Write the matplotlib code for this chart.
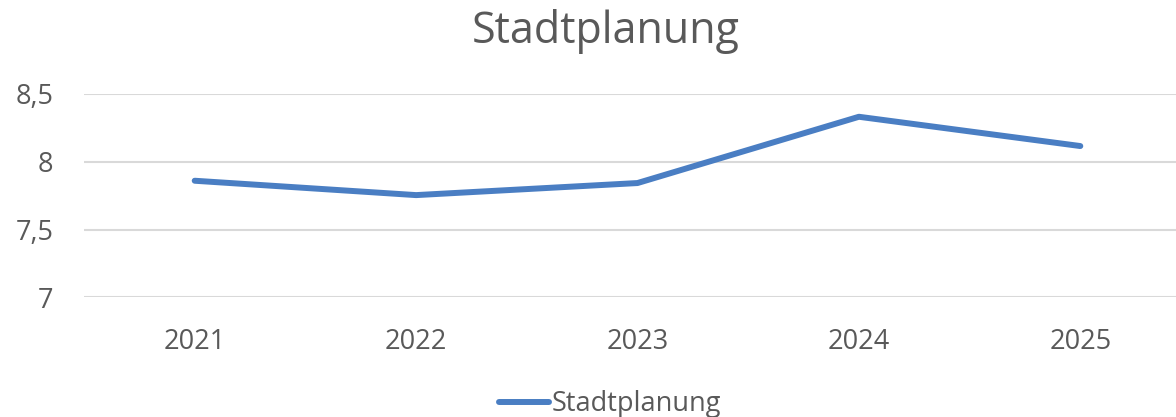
import matplotlib
matplotlib.use("Agg")
import matplotlib.pyplot as plt
from matplotlib.lines import Line2D

years = ["2021", "2022", "2023", "2024", "2025"]
values = [7.86, 7.754, 7.843, 8.332, 8.116]
yticks = [7, 7.5, 8, 8.5]
ytick_labels = ["7", "7,5", "8", "8,5"]
series_name = "Stadtplanung"

W, H = 1176, 417
fig = plt.figure(figsize=(W / 100, H / 100), dpi=100)
plt.rcParams['font.family'] = ['Open Sans', 'DejaVu Sans']

line_color = "#4A7EC3"
left, right = 84, 1191
bottom, top = 297.3, 94
ax = fig.add_axes([left / W, (H - bottom) / H, (right - left) / W, (bottom - top) / H])
x = list(range(len(years)))
ax.plot(x, values, color=line_color, lw=4.3, solid_capstyle="round", solid_joinstyle="round", zorder=3)
ax.set_xlim(-0.5, len(years) - 0.5)
ax.set_ylim(7, 8.5)
ax.set_yticks(yticks)
ax.set_yticklabels(ytick_labels)
ax.set_xticks(x)
ax.set_xticklabels(years)
for s in ax.spines.values():
    s.set_visible(False)
ax.grid(axis="y", color="#D9D9D9", lw=1.5)
ax.set_axisbelow(True)
ax.tick_params(axis="both", length=0, labelsize=19.5, colors="#595959")
ax.tick_params(axis="y", pad=22)
ax.tick_params(axis="x", pad=22)
for lab in ax.get_yticklabels():
    lab.set_horizontalalignment("right")

fig.text(606 / W, 1 - 31 / H, "Stadtplanung", ha="center", va="center", fontsize=31, color="#595959")

handle = Line2D([], [], color=line_color, lw=4.3, solid_capstyle="round")
fig.legend([handle], [series_name], loc="center", bbox_to_anchor=(610 / W, 1 - 404 / H),
           frameon=False, fontsize=19.5, labelcolor="#595959", handlelength=1.85, handletextpad=0.1,
           borderpad=0, borderaxespad=0)

fig.savefig("out.png", dpi=100)
